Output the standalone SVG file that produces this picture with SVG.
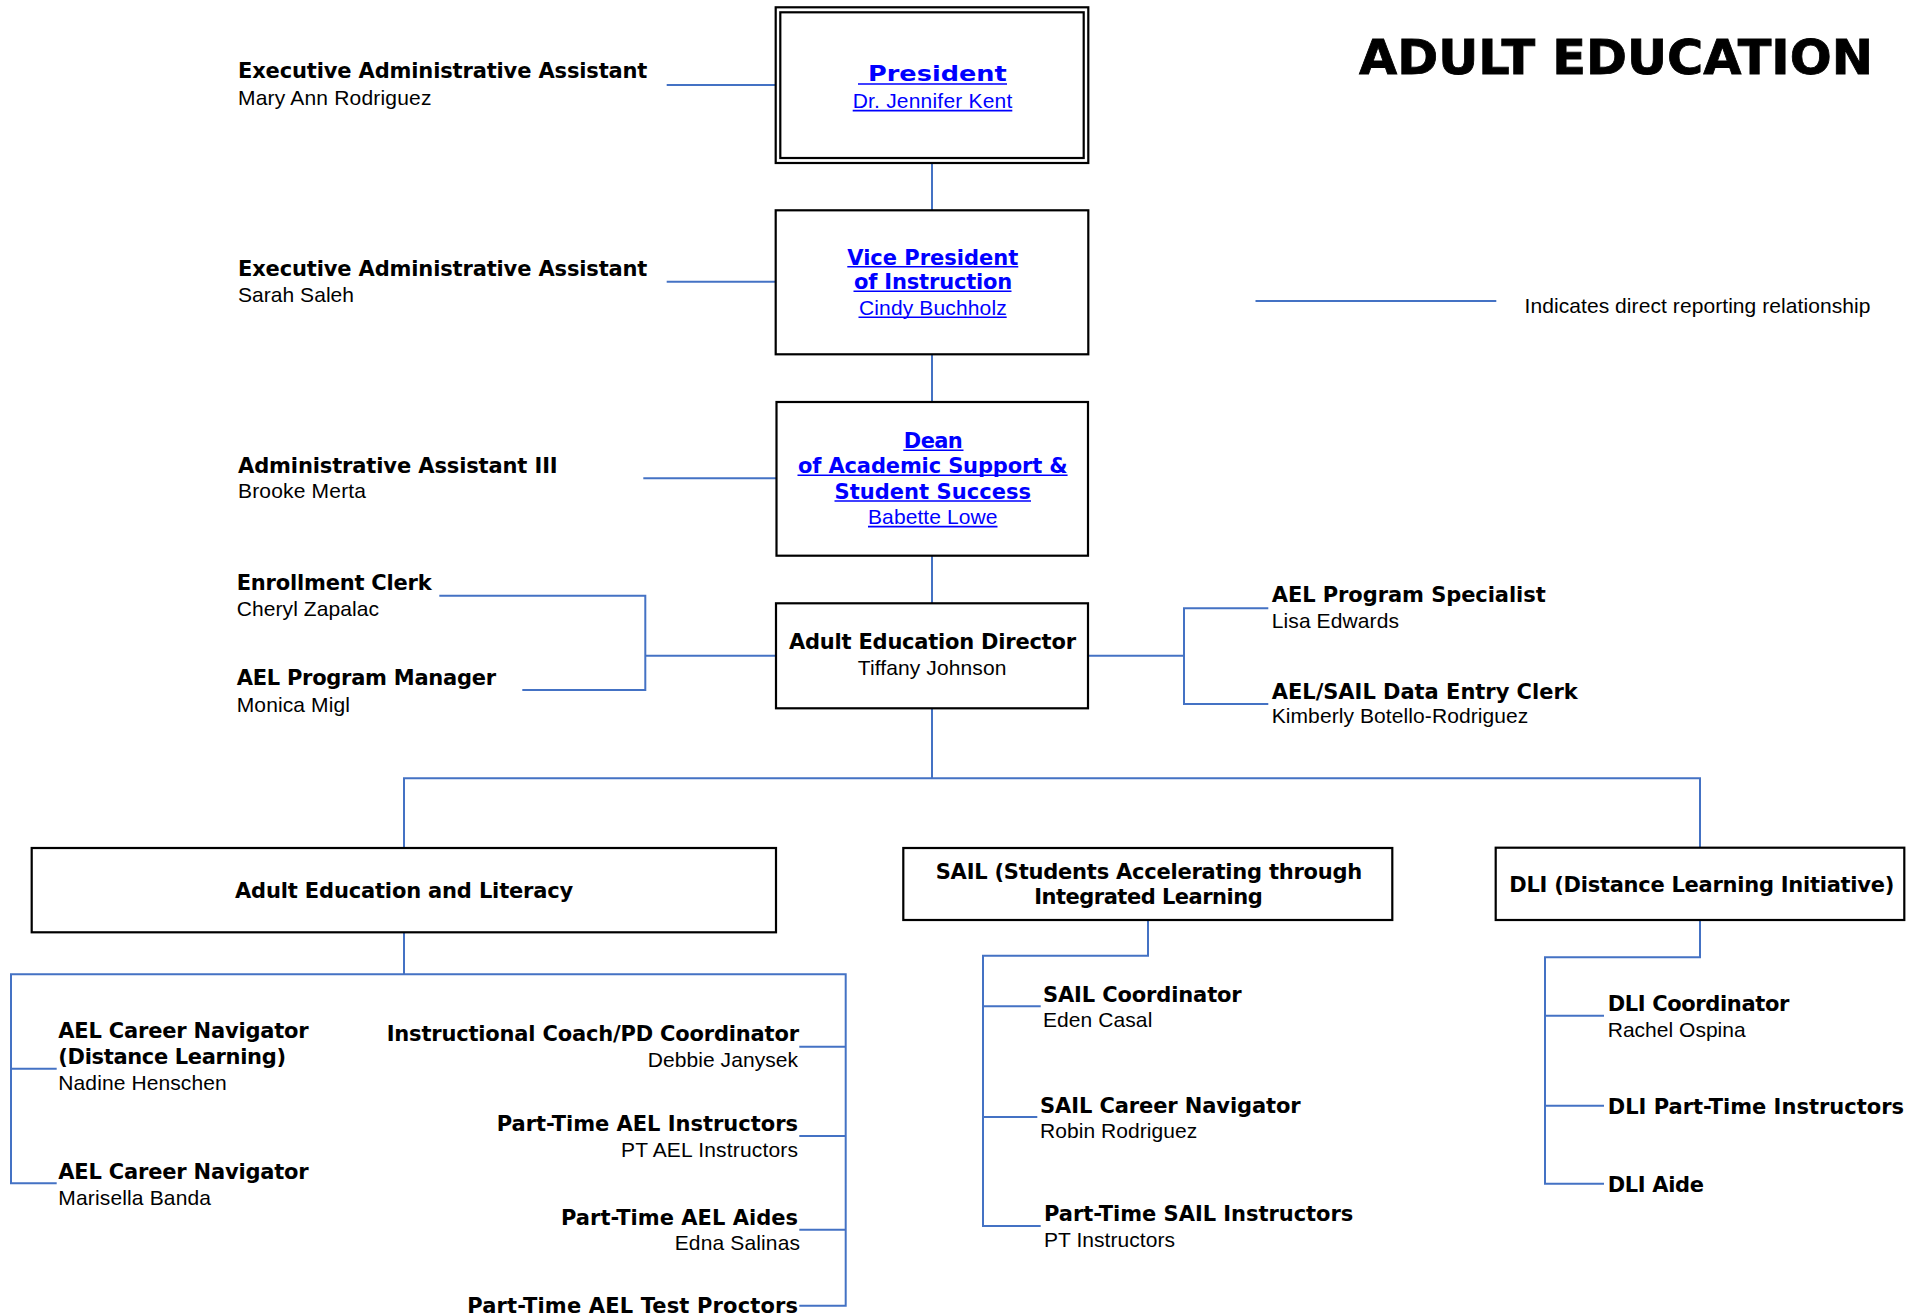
<svg xmlns="http://www.w3.org/2000/svg" width="1925" height="1316" viewBox="0 0 1925 1316">
<style>
.b{font-family:"DejaVu Sans","Liberation Sans",Arial,sans-serif;font-weight:bold;font-size:21px;fill:#000}
.r{font-family:"Liberation Sans",Arial,sans-serif;font-size:21px;fill:#000}
.lk{fill:#0000ff}
.box{fill:#fff;stroke:#000;stroke-width:2.2}
.conn{stroke:#4472C4;stroke-width:2;fill:none}
.ul{stroke:#0000ff;stroke-width:1.6}
.t{font-family:"DejaVu Sans","Liberation Sans",Arial,sans-serif;font-weight:bold;font-size:48px;fill:#000;stroke:#000;stroke-width:0.8}
</style>
<rect width="1925" height="1316" fill="#fff"/>
<g id="connectors" class="conn">
<path d="M666.7,85 H776"/>
<path d="M666.7,281.7 H776"/>
<path d="M643.3,478.3 H776"/>
<path d="M932,163 V210.3"/>
<path d="M932,354.3 V402"/>
<path d="M932,555.7 V603.3"/>
<path d="M439.3,595.7 H645.3 V690 H522.3"/>
<path d="M645.3,655.7 H776"/>
<path d="M1088,655.7 H1184"/>
<path d="M1268.3,608.3 H1184 V704 H1268.3"/>
<path d="M932,708.3 V778.3"/>
<path d="M404,848 V778.3 H1700 V848"/>
<path d="M404,932.3 V974.3"/>
<path d="M56.7,1183.3 H11 V974.3 H845.7 V1305.7 H799.3"/>
<path d="M11,1068.7 H56.7"/>
<path d="M799.3,1046.7 H845.7"/>
<path d="M799.3,1136 H845.7"/>
<path d="M799.3,1229.7 H845.7"/>
<path d="M1148,920 V955.7 H983 V1226 H1040.7"/>
<path d="M983,1006.3 H1040.7"/>
<path d="M983,1117 H1037.3"/>
<path d="M1700,920 V957.3 H1545 V1183.7 H1604"/>
<path d="M1545,1015.7 H1604"/>
<path d="M1545,1105.7 H1604"/>
</g>
<g id="title">
<text class="t" x="1359" y="74" textLength="514" lengthAdjust="spacingAndGlyphs">ADULT EDUCATION</text>
</g>
<g id="legend">
<path class="conn" d="M1255.5,301 H1496.3"/>
<text class="r" x="1524.5" y="313.3" textLength="346">Indicates direct reporting relationship</text>
</g>
<g id="president">
<rect class="box" x="775.7" y="7.3" width="312.6" height="155.7"/>
<rect class="box" x="780.3" y="12.3" width="303.4" height="145.7"/>
<text class="b lk" x="868" y="81" font-size="26" textLength="138.7" lengthAdjust="spacingAndGlyphs">President</text>
<line class="ul" x1="858" y1="84" x2="1007" y2="84"/>
<text class="r lk" x="852.7" y="108.3" font-size="22" textLength="159.6">Dr. Jennifer Kent</text>
<line class="ul" x1="852.7" y1="110.6" x2="1012.3" y2="110.6"/>
</g>
<g id="vp">
<rect class="box" x="775.7" y="210.3" width="312.6" height="144"/>
<text class="b lk" x="847.3" y="265" font-size="22" textLength="171">Vice President</text>
<line class="ul" x1="847.3" y1="266.8" x2="1018.3" y2="266.8"/>
<text class="b lk" x="854" y="289.3" font-size="22" textLength="158.3">of Instruction</text>
<line class="ul" x1="853.5" y1="291.2" x2="1011.5" y2="291.2"/>
<text class="r lk" x="859" y="315" font-size="22" textLength="147.7">Cindy Buchholz</text>
<line class="ul" x1="858.5" y1="317.3" x2="1006.7" y2="317.3"/>
</g>
<g id="dean">
<rect class="box" x="776.5" y="402" width="311.5" height="153.7"/>
<text class="b lk" x="903.8" y="448.3" textLength="59">Dean</text>
<line class="ul" x1="903.3" y1="450.3" x2="963.5" y2="450.3"/>
<text class="b lk" x="798" y="473.3" textLength="269.6">of Academic Support &amp;</text>
<line class="ul" x1="797.5" y1="475.3" x2="1067.6" y2="475.3"/>
<text class="b lk" x="834.5" y="499" textLength="196.5">Student Success</text>
<line class="ul" x1="834.5" y1="501" x2="1031" y2="501"/>
<text class="r lk" x="868" y="524.3" textLength="129.5">Babette Lowe</text>
<line class="ul" x1="868" y1="526.6" x2="997.5" y2="526.6"/>
</g>
<g id="director">
<rect class="box" x="776" y="603.3" width="312" height="105"/>
<text class="b" x="789" y="649.3" textLength="287">Adult Education Director</text>
<text class="r" x="857.8" y="675" textLength="148.6">Tiffany Johnson</text>
</g>
<g id="exec-asst-1">
<text class="b" x="238" y="78.3" textLength="409.4">Executive Administrative Assistant</text>
<text class="r" x="238" y="105" textLength="193.4">Mary Ann Rodriguez</text>
</g>
<g id="exec-asst-2">
<text class="b" x="238" y="275.7" textLength="409.4">Executive Administrative Assistant</text>
<text class="r" x="238" y="301.7" textLength="116">Sarah Saleh</text>
</g>
<g id="admin-asst-3">
<text class="b" x="238" y="472.7" textLength="319.7">Administrative Assistant III</text>
<text class="r" x="238" y="497.7" textLength="128">Brooke Merta</text>
</g>
<g id="enrollment-clerk">
<text class="b" x="236.7" y="590" textLength="195">Enrollment Clerk</text>
<text class="r" x="236.7" y="616" textLength="142.3">Cheryl Zapalac</text>
</g>
<g id="program-manager">
<text class="b" x="236.7" y="685" textLength="259.3">AEL Program Manager</text>
<text class="r" x="236.7" y="711.7" textLength="113.3">Monica Migl</text>
</g>
<g id="program-specialist">
<text class="b" x="1271.7" y="601.7" textLength="274">AEL Program Specialist</text>
<text class="r" x="1271.7" y="627.7" textLength="127.3">Lisa Edwards</text>
</g>
<g id="data-entry-clerk">
<text class="b" x="1271.7" y="699" textLength="306">AEL/SAIL Data Entry Clerk</text>
<text class="r" x="1271.7" y="723.3" textLength="256.6">Kimberly Botello-Rodriguez</text>
</g>
<g id="ael">
<rect class="box" x="31.7" y="848" width="744.3" height="84.3"/>
<text class="b" x="235" y="898.3" textLength="338.3">Adult Education and Literacy</text>
</g>
<g id="sail">
<rect class="box" x="903.3" y="848" width="489" height="72"/>
<text class="b" x="935.7" y="879" textLength="426.6">SAIL (Students Accelerating through</text>
<text class="b" x="1034.3" y="904" textLength="228.4">Integrated Learning</text>
</g>
<g id="dli">
<rect class="box" x="1495.7" y="847.7" width="408.6" height="72.3"/>
<text class="b" x="1509.3" y="892.3" textLength="385">DLI (Distance Learning Initiative)</text>
</g>
<g id="career-nav-dl">
<text class="b" x="58.3" y="1038.3" textLength="250.4">AEL Career Navigator</text>
<text class="b" x="58.3" y="1064" textLength="227.7">(Distance Learning)</text>
<text class="r" x="58.3" y="1090" textLength="168.4">Nadine Henschen</text>
</g>
<g id="career-nav">
<text class="b" x="58.3" y="1179.3" textLength="250.4">AEL Career Navigator</text>
<text class="r" x="58.3" y="1205" textLength="152.7">Marisella Banda</text>
</g>
<g id="instr-coach">
<text class="b" x="386.7" y="1040.7" textLength="412.3">Instructional Coach/PD Coordinator</text>
<text class="r" x="647.7" y="1066.7" textLength="150.3">Debbie Janysek</text>
</g>
<g id="pt-ael-instructors">
<text class="b" x="496.7" y="1130.7" textLength="301.3">Part-Time AEL Instructors</text>
<text class="r" x="621" y="1156.7" textLength="177">PT AEL Instructors</text>
</g>
<g id="pt-ael-aides">
<text class="b" x="561" y="1225" textLength="237">Part-Time AEL Aides</text>
<text class="r" x="674.7" y="1250" textLength="125.3">Edna Salinas</text>
</g>
<g id="pt-ael-proctors">
<text class="b" x="467.3" y="1313.3" textLength="330.7">Part-Time AEL Test Proctors</text>
</g>
<g id="sail-coordinator">
<text class="b" x="1043" y="1002.3" textLength="198.7">SAIL Coordinator</text>
<text class="r" x="1043" y="1027.3" textLength="109.3">Eden Casal</text>
</g>
<g id="sail-career-nav">
<text class="b" x="1040" y="1113.3" textLength="260.7">SAIL Career Navigator</text>
<text class="r" x="1040" y="1137.7" textLength="157.3">Robin Rodriguez</text>
</g>
<g id="pt-sail-instructors">
<text class="b" x="1044" y="1221" textLength="309.3">Part-Time SAIL Instructors</text>
<text class="r" x="1044" y="1246.7" textLength="131">PT Instructors</text>
</g>
<g id="dli-coordinator">
<text class="b" x="1607.7" y="1010.7" textLength="181.6">DLI Coordinator</text>
<text class="r" x="1607.7" y="1036.7" textLength="138">Rachel Ospina</text>
</g>
<g id="dli-pt-instructors">
<text class="b" x="1607.7" y="1114" textLength="296.3">DLI Part-Time Instructors</text>
</g>
<g id="dli-aide">
<text class="b" x="1607.7" y="1191.7" textLength="96.3">DLI Aide</text>
</g>
</svg>
